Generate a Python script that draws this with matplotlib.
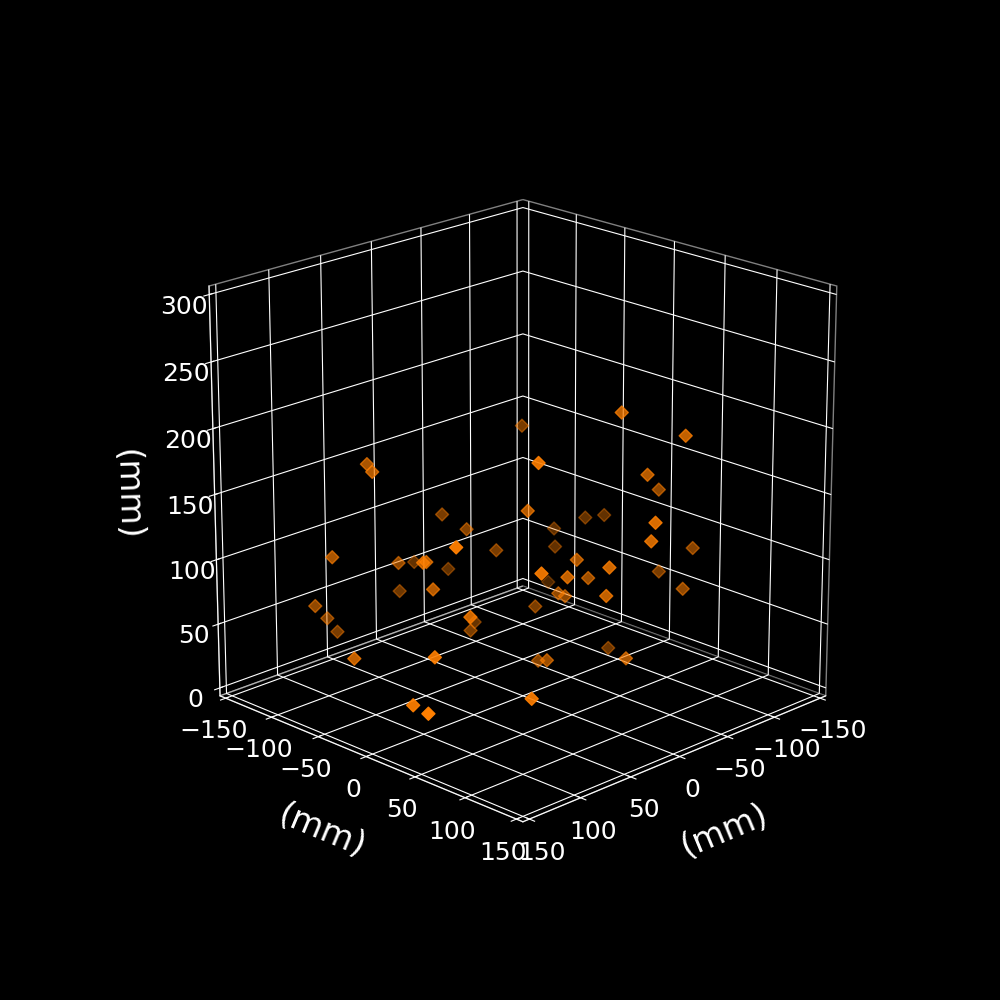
import matplotlib
matplotlib.use('Agg')
import matplotlib.pyplot as plt
plt.style.use('dark_background')
plt.rcParams['axes3d.automargin'] = True

x_mm = [27,32,-28,-32,33,-50,62,16,-17,28,20,-34,2,21,67,57,48,19,-36,-22,80,57,79,82,
        -101,-130,-86,-30,-110,-133,-42,-116,-126,-100,-86,-87,-147,-94,-65,-61,-132,-12,-44,-74,-97,-128,-62,-65,-61,-60,-98,-73,-45,-38,15]
y_mm = [-135,-124,-113,-91,-35,-78,-136,-114,-132,-75,-80,-113,-128,-72,-150,-148,-147,-35,-87,-77,-94,-33,-33,-14,
        1,38,-87,-14,19,9,-37,-50,-40,-67,50,45,31,-60,-9,28,11,7,2,-6,-70,39,-25,-21,25,-47,-8,34,-29,-13,24]
z_mm = [146,144,98,91,109,73,82,71,58,85,82,53,41,63,41,29,16,51,17,17,19,31,0,0,
        188,172,160,163,142,122,117,89,91,80,119,103,78,69,80,85,58,88,75,64,37,53,50,48,62,34,1,12,0,7,3]
axis_label = '(mm)'
marker_color = '#ff7f00'

fig = plt.figure(figsize=(10, 10), dpi=100)
ax = fig.add_subplot(projection='3d')
ax.set_box_aspect((1, 1, 1), zoom=0.952)
ax.view_init(elev=20, azim=45)
ax.scatter(x_mm, y_mm, z_mm, marker='D', s=44, c=marker_color)
ax.set_xlim(-150, 150)
ax.set_ylim(-150, 150)
ax.set_zlim(0, 300)
for a in (ax.xaxis, ax.yaxis, ax.zaxis):
    a.pane.set_facecolor((0, 0, 0, 0))
    a.pane.set_edgecolor((1, 1, 1, 0.5))
    a.set_rotate_label(True)
ax.tick_params(labelsize=18)
ax.set_xlabel(axis_label, fontsize=24, labelpad=19)
ax.set_ylabel(axis_label, fontsize=24, labelpad=19)
ax.set_zlabel(axis_label, fontsize=24, labelpad=20)
fig.savefig('out.png', dpi=100)
